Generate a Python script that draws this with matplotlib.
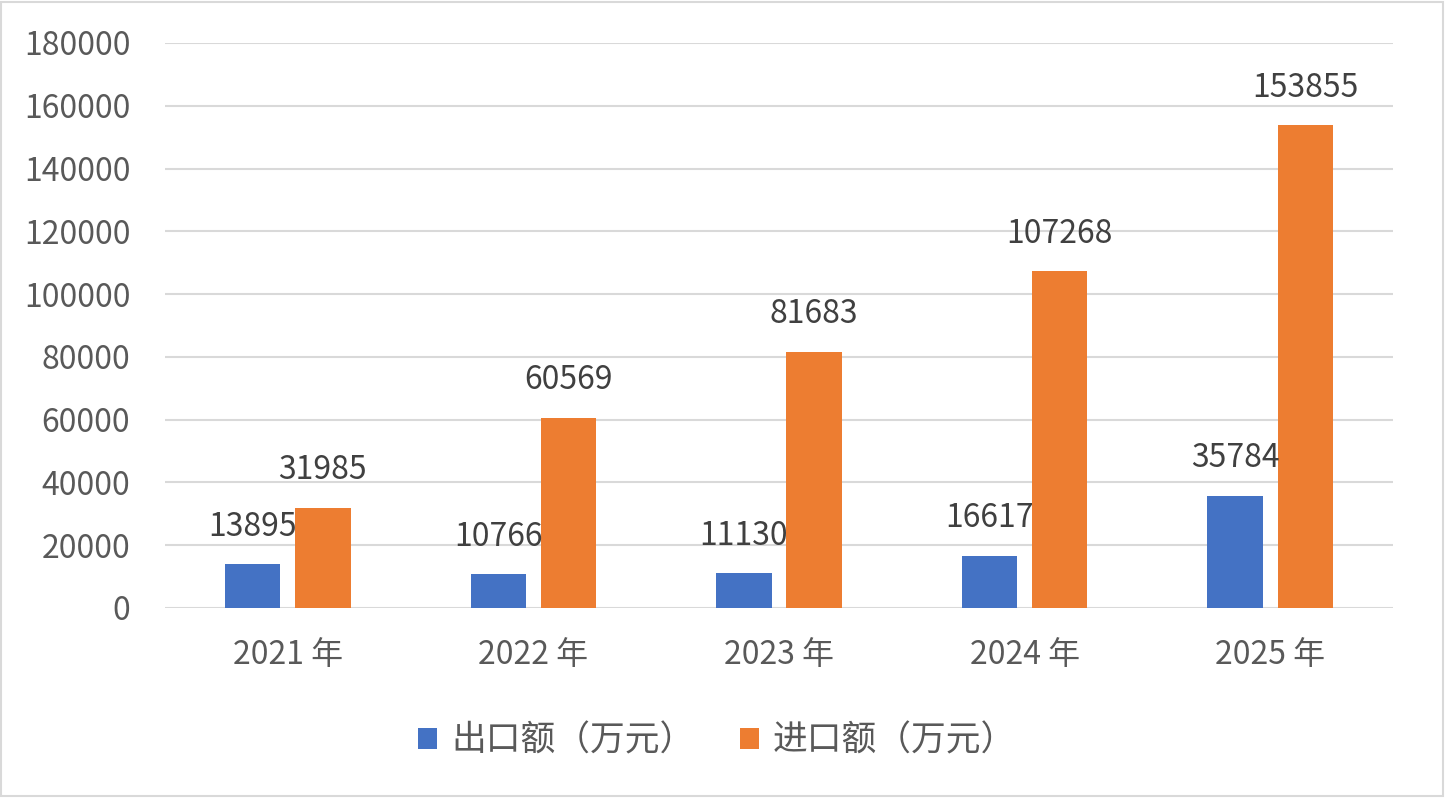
import matplotlib
matplotlib.use("Agg")
import matplotlib.pyplot as plt
import numpy as np

plt.rcParams['font.family'] = ['Noto Sans CJK SC', 'DejaVu Sans']

categories = ["2021 年", "2022 年", "2023 年", "2024 年", "2025 年"]
export_vals = [13895, 10766, 11130, 16617, 35784]
import_vals = [31985, 60569, 81683, 107268, 153855]
series_names = ["出口额（万元）", "进口额（万元）"]
yticks = list(range(0, 180001, 20000))

fig = plt.figure(figsize=(14.46, 7.98), dpi=100)
ax = fig.add_axes([165/1446, 1-608/798, (1393-165)/1446, (608-43)/798])

x = np.arange(len(categories))
w = 0.226
off = 0.143
text_color = '#595959'
fs = 23
b1 = ax.bar(x - off, export_vals, w, color='#4472C4', label=series_names[0], zorder=3)
b2 = ax.bar(x + off, import_vals, w, color='#ED7D31', label=series_names[1], zorder=3)

for bars, vals in ((b1, export_vals), (b2, import_vals)):
    for r, v in zip(bars, vals):
        ax.annotate(str(v), (r.get_x() + r.get_width()/2, v), xytext=(0, 27),
                    textcoords='offset points', ha='center', va='center',
                    fontsize=fs, color='#404040', zorder=4)

ax.set_xlim(-0.5, len(categories) - 0.5)
ax.set_ylim(0, 180000)
ax.set_yticks(yticks)
ax.set_yticklabels([str(t) for t in yticks], fontsize=fs, color=text_color)
ax.set_xticks(x)
ax.set_xticklabels(categories, fontsize=fs, color=text_color)
ax.tick_params(axis='both', length=0)
ax.tick_params(axis='y', pad=25)
ax.tick_params(axis='x', pad=22)
ax.grid(axis='y', color='#D9D9D9', linewidth=1.5, zorder=0)
for s in ax.spines.values():
    s.set_visible(False)

leg = fig.legend(handles=[b1, b2], labels=series_names, loc='center',
                 bbox_to_anchor=(717/1446, 1-741/798), ncol=2, frameon=False,
                 fontsize=25, handlelength=0.55, handleheight=0.55,
                 columnspacing=1.3, handletextpad=0.4)
for t in leg.get_texts():
    t.set_color(text_color)

fig.patches.append(plt.Rectangle((0.001, 0.002), 0.997, 0.995, transform=fig.transFigure,
                                 fill=False, edgecolor='#D9D9D9', linewidth=1.5))

fig.savefig("out.png", dpi=100, facecolor='white')
